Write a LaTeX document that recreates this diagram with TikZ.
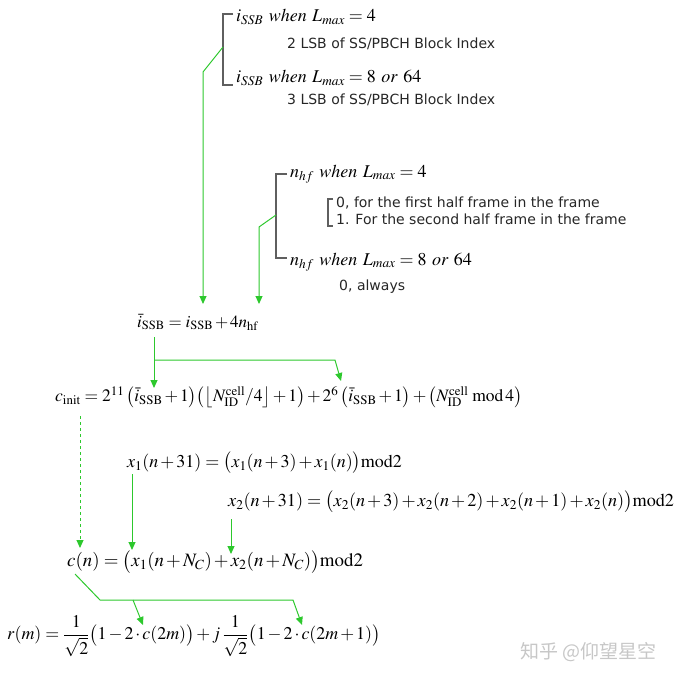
\documentclass[tikz,border=0pt]{standalone}
\usepackage{mathptmx}
\usepackage[no-math]{fontspec}
\newfontfamily\verd{DejaVu Sans}
\newfontfamily\cjk{Noto Sans CJK SC}
\usetikzlibrary{arrows.meta}
\definecolor{arrowgreen}{RGB}{45,200,45}
\definecolor{bracketgray}{RGB}{95,95,95}
\newcommand{\eqsize}[1]{\fontsize{#1}{#1}\selectfont\medmuskip=2mu\thickmuskip=4mu}

\begin{document}
\begin{tikzpicture}[x=1pt, y=-1pt,
	eq/.style = {anchor=west, inner sep=0, font=\eqsize{18}},
	cond/.style = {anchor=west, inner sep=0, font=\fontsize{18}{20}\selectfont},
	note/.style = {anchor=west, inner sep=0, font=\verd\fontsize{14}{16}\selectfont, text=black!85},
	br/.style = {draw=bracketgray, line width=1.1pt},
	g/.style = {draw=arrowgreen, line width=1pt, -{Triangle[length=8pt,width=7pt]}}
	]
	\useasboundingbox (0,0) rectangle (684,679);
	
	%Nodes
	\node[cond]	(ia)	at	(236, 17)	{$i_{SSB}\ \mathit{when}\ L_{max}=4$};
	\node[note]	(ia2)	at	(287, 44)	{2 LSB of SS/PBCH Block Index};
	\node[cond]	(ib)	at	(236, 78)	{$i_{SSB}\ \mathit{when}\ L_{max}=8\ \mathit{or}\ 64$};
	\node[note]	(ib2)	at	(287, 100)	{3 LSB of SS/PBCH Block Index};
	\node[cond]	(na)	at	(290, 174)	{$n_{hf}\ \mathit{when}\ L_{max}=4$};
	\node[note]	(na2)	at	(336, 203)	{0, for the first half frame in the frame};
	\node[note]	(na3)	at	(336, 219)	{1. For the second half frame in the frame};
	\node[cond]	(nb)	at	(290, 262)	{$n_{hf}\ \mathit{when}\ L_{max}=8\ \mathit{or}\ 64$};
	\node[note]	(nb2)	at	(339, 287)	{0, always};
	
	\node[eq, font=\eqsize{17}]	(ibar)	at	(137, 322)	{$\bar{i}_{\mathrm{SSB}}=i_{\mathrm{SSB}}+4n_{\mathrm{hf}}$};
	\node[eq, font=\eqsize{17.5}]	(cinit)	at	(55, 397)	{$c_{\mathrm{init}}=2^{11}\,\bigl(\bar{i}_{\mathrm{SSB}}+1\bigr)\bigl(\bigl\lfloor N_{\mathrm{ID}}^{\mathrm{cell}}/4\bigr\rfloor+1\bigr)+2^{6}\,\bigl(\bar{i}_{\mathrm{SSB}}+1\bigr)+\bigl(N_{\mathrm{ID}}^{\mathrm{cell}}\;\mathrm{mod}\,4\bigr)$};
	\node[eq]	(xone)	at	(127, 463)	{$x_1(n+31)=\bigl(x_1(n+3)+x_1(n)\bigr)\mathrm{mod}2$};
	\node[eq, font=\eqsize{18.2}]	(xtwo)	at	(228, 502)	{$x_2(n+31)=\bigl(x_2(n+3)+x_2(n+2)+x_2(n+1)+x_2(n)\bigr)\mathrm{mod}2$};
	\node[eq, font=\eqsize{18.9}]	(cn)	at	(67, 562)	{$c(n)=\bigl(x_1(n+N_C)+x_2(n+N_C)\bigr)\mathrm{mod}2$};
	\node[eq, font=\eqsize{17.9}]	(rm)	at	(7, 636)	{$r(m)={\displaystyle\frac{1}{\sqrt{2}}}\bigl(1-2\cdot c(2m)\bigr)+j\,{\displaystyle\frac{1}{\sqrt{2}}}\bigl(1-2\cdot c(2m+1)\bigr)$};
	\node[anchor=west, inner sep=0, font=\cjk\fontsize{19}{21}\selectfont, text=black!22]	(mark)	at	(520, 652)	{知乎 @仰望星空};
	
	%Points
	\coordinate	(bra)	at	(223, 47);
	\coordinate	(brb)	at	(276, 215);
	\coordinate	(ka)	at	(203, 72);
	\coordinate	(kb)	at	(259, 227);
	\coordinate	(ta)	at	(203, 304);
	\coordinate	(tb)	at	(259, 304);
	\coordinate	(fa)	at	(154, 337);
	\coordinate	(fb)	at	(154, 360);
	\coordinate	(fc)	at	(335, 360);
	\coordinate	(ua)	at	(154, 388);
	\coordinate	(ub)	at	(341, 381);
	\coordinate	(ca)	at	(80, 416);
	\coordinate	(cb)	at	(80, 548);
	\coordinate	(xa)	at	(132, 474);
	\coordinate	(xb)	at	(132, 550);
	\coordinate	(ya)	at	(231, 519);
	\coordinate	(yb)	at	(231, 554);
	\coordinate	(da)	at	(75, 574);
	\coordinate	(db)	at	(100, 600);
	\coordinate	(dc)	at	(133, 600);
	\coordinate	(dd)	at	(293, 600);
	\coordinate	(ra)	at	(143, 625);
	\coordinate	(rb)	at	(302, 625);
	
	%Brackets
	\draw[br]	(233, 14) -| (223, 85) -- (233, 85);
	\draw[br]	(287, 174) -| (276, 258) -- (287, 258);
	\draw[br]	(333, 199) -| (328, 226) -- (333, 226);
	
	%Lines
	\draw[g]	(bra) -- (ka) -- (ta);
	\draw[g]	(brb) -- (kb) -- (tb);
	\draw[g]	(fa) -- (ua);
	\draw[g]	(fb) -- (fc) -- (ub);
	\draw[g, dashed]	(ca) -- (cb);
	\draw[g]	(xa) -- (xb);
	\draw[g]	(ya) -- (yb);
	\draw[g]	(da) -- (db) -- (dd) -- (rb);
	\draw[g]	(dc) -- (ra);
\end{tikzpicture}
\end{document}
